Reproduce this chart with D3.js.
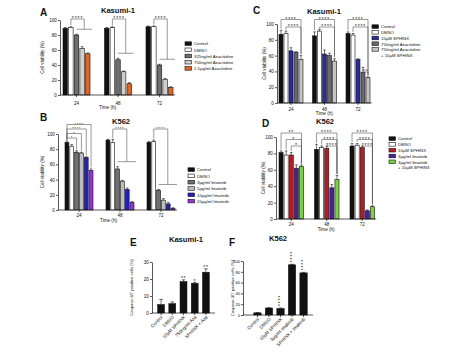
<!DOCTYPE html>
<html><head><meta charset="utf-8">
<script src="https://cdn.jsdelivr.net/npm/d3@7"></script>
<style>
body{margin:0;background:#fff;}
svg{display:block;font-family:"Liberation Sans",Arial,sans-serif;}
</style></head>
<body><svg id="c" width="474" height="360"></svg>
<script>
// ---------- DATA ----------
const timeLabels = ["24","48","72"];
const yTicks100 = [0,20,40,60,80,100];

const seriesA = ["Control","DMSO","325ng/ml Azacitidine","750ng/ml Azacitidine","1.5µg/ml Azacitidine"];
const valuesA = [[89,90,80,62,55],[89,90,47,31,15],[91,91,40,21,10]];
const errorsA = [[1,1,1,2.5,1],[1,1,2,1,1.5],[1,1,1,1,1]];
const colorsA = ["#111111","#ffffff","#6e6e6e","#cfcfcf","#e8641e"];
const bracketsA = [
  {type:"group", g:0, a:1, span:[2,4], level:0, label:"****"},
  {type:"group", g:1, a:1, span:[2,4], level:0, label:"****"},
  {type:"group", g:2, a:1, span:[2,4], level:0, label:"****"}
];

const seriesB = ["Control","DMSO","3µg/ml Imatinib","5µg/ml Imatinib","10µg/ml Imatinib","20µg/ml Imatinib"];
const valuesB = [[89,84,76,75,69,52],[92,89,54,38,27,10],[89,90,26,13,8,2]];
const errorsB = [[2,2,2,1,1,2],[1,4,3,1,2,1],[1,2,1,2,2,1]];
const colorsB = ["#111111","#ffffff","#707070","#bdbdbd","#1f1fd0","#9a32dc"];
const bracketsB = [
  {type:"pair", g:0, a:0, b:2, level:0, label:"*"},
  {type:"pair", g:0, a:0, b:3, level:1, label:"*"},
  {type:"pair", g:0, a:0, b:4, level:2, label:"****"},
  {type:"pair", g:0, a:0, b:5, level:3, label:"****"},
  {type:"group", g:1, a:1, span:[2,5], level:2, label:"****"},
  {type:"group", g:2, a:1, span:[2,5], level:2, label:"****"}
];

const seriesC = ["Control","DMSO","10µM SPHINX","750ng/ml Azacitidine","750ng/ml Azacitidine\n+ 10µM SPHINX"];
const valuesC = [[87,88,66,64,55],[85,91,62,60,53],[88,86,55,39,32]];
const errorsC = [[5,3,4,1,5],[5,2,5,3,3],[2,2,1,6,1]];
const colorsC = ["#111111","#ffffff","#2a2aa6","#6a6a6a","#c4c4c4"];
const bracketsC = [
  {type:"pair", g:0, a:0, b:4, level:1, label:"****"},
  {type:"pair", g:0, a:1, b:4, level:0, label:"****"},
  {type:"pair", g:1, a:0, b:4, level:1, label:"****"},
  {type:"pair", g:1, a:1, b:4, level:0, label:"****"},
  {type:"pair", g:2, a:0, b:4, level:1, label:"****"},
  {type:"pair", g:2, a:1, b:4, level:0, label:"****"},
  {type:"pair", g:2, a:3, b:4, level:-6, label:"n.s."}
];

const seriesD = ["Control","DMSO","10µM SPHINX","3µg/ml Imatinib","3µg/ml Imatinib\n+ 10µM SPHINX"];
const valuesD = [[81,78,78,62,64],[85,87,86,38,48],[89,90,87,10,15]];
const errorsD = [[2,5,3,4,2],[6,2,3,4,5],[3,2,2,1,1]];
const colorsD = ["#111111","#ffffff","#c4161c","#4a1fa6","#74d63c"];
const bracketsD = [
  {type:"pair", g:0, a:0, b:4, level:2, label:"**"},
  {type:"pair", g:0, a:1, b:4, level:1, label:"*"},
  {type:"pair", g:0, a:2, b:4, level:0, label:"*"},
  {type:"pair", g:1, a:0, b:4, level:2, label:"****"},
  {type:"pair", g:1, a:1, b:4, level:1, label:"****"},
  {type:"pair", g:1, a:2, b:4, level:0, label:"****"},
  {type:"pair", g:2, a:0, b:4, level:2, label:"****"},
  {type:"pair", g:2, a:1, b:4, level:1, label:"****"},
  {type:"pair", g:2, a:2, b:4, level:0, label:"****"}
];

const categoriesE = ["Control","DMSO","10µM SPHINX","750ng/ml Aza","SPHINX + Aza"];
const valuesE = [5,5.5,18.5,17.5,24];
const errorsE = [3,1,1,0.5,2];
const signifE = ["","","**","*","**"];
const yTicksE = [0,10,20,30];

const categoriesF = ["Control","DMSO","10µM SPHINX","3µg/ml Imatinib","SPHINX + Imatinib"];
const valuesF = [4,13,12,93,78];
const errorsF = [0.5,0.5,1,1,1];
const signifF = ["","","****","****","****"];
const yTicksF = [0,20,40,60,80,100];

// ---------- DRAWING ----------
const svg = d3.select("#c");
const FONT = 4.6;

function txt(x,y,s,size,opts={}) {
  const t = svg.append("text").attr("x",x).attr("y",y).text(s)
    .attr("font-size",size).attr("fill","#111");
  if (opts.anchor) t.attr("text-anchor",opts.anchor);
  if (opts.bold) t.attr("font-weight","bold");
  if (opts.rotate!==undefined) t.attr("transform",`rotate(${opts.rotate},${x},${y})`);
  if (opts.ls) t.attr("letter-spacing",opts.ls);
  return t;
}

function styleAxis(g, size){
  g.selectAll("text").attr("font-size",size||FONT).attr("fill","#111")
   .attr("font-family","Liberation Sans, Arial, sans-serif");
  g.selectAll("line,path").attr("stroke","#111").attr("stroke-width",0.7);
}

function groupedPanel(c){
  const y = d3.scaleLinear().domain([0,100]).range([c.yBot,c.yTop]);
  const n = timeLabels.length, po = 0.05, pi = 1 - c.gw/c.step;
  const xa = c.gl - c.step*po, xb = xa + c.step*(n - pi + 2*po);
  const x0 = d3.scaleBand().domain(timeLabels).range([xa,xb]).paddingInner(pi).paddingOuter(po);
  const x1 = d3.scaleBand().domain(d3.range(c.series.length)).range([0,x0.bandwidth()]).paddingInner(0.2);
  const bw = x1.bandwidth();
  const g = svg.append("g");

  // bars
  c.values.forEach((vals,gi)=>{
    vals.forEach((v,si)=>{
      const bx = x0(timeLabels[gi]) + x1(si);
      g.append("rect").attr("x",bx).attr("y",y(v)).attr("width",bw).attr("height",y(0)-y(v))
        .attr("fill",c.colors[si]).attr("stroke","#111").attr("stroke-width",0.6);
      const e = c.errors[gi][si], cx = bx + bw/2;
      g.append("line").attr("x1",cx).attr("x2",cx).attr("y1",y(v)).attr("y2",y(v+e))
        .attr("stroke","#111").attr("stroke-width",0.6);
      g.append("line").attr("x1",cx-1.3).attr("x2",cx+1.3).attr("y1",y(v+e)).attr("y2",y(v+e))
        .attr("stroke","#111").attr("stroke-width",0.6);
    });
  });

  // axes
  const ya = g.append("g").attr("transform",`translate(${c.ax},0)`)
    .call(d3.axisLeft(y).tickValues(yTicks100).tickSize(2).tickSizeOuter(0).tickPadding(1.2));
  styleAxis(ya);
  const xaG = g.append("g").attr("transform",`translate(0,${c.yBot})`)
    .call(d3.axisBottom(x0).tickSize(2).tickSizeOuter(0).tickPadding(c.xPad));
  styleAxis(xaG);
  xaG.select(".domain").remove();
  g.append("line").attr("x1",c.ax).attr("x2",xb).attr("y1",c.yBot).attr("y2",c.yBot)
    .attr("stroke","#111").attr("stroke-width",0.7);

  txt((c.ax+xb)/2 + c.timeDx, c.timeY, "Time (h)", FONT, {anchor:"middle"});
  txt(c.ylabX, (c.yTop+c.yBot)/2, "Cell viability (%)", FONT, {anchor:"middle", rotate:-90});
  txt(c.titleX, c.titleY, c.title, 7.6, {anchor:"middle", bold:true});
  txt(c.letterX, c.letterY, c.letter, 10, {bold:true});

  // brackets
  const levY = lv => y(100) + c.brBase - lv*c.brStep;
  const bc = (gi,si) => x0(timeLabels[gi]) + x1(si) + bw/2;
  const topOf = (gi,si) => y(c.values[gi][si] + c.errors[gi][si]) - 1.5;
  const bcol = c.brColor;
  const line = (x1_,y1_,x2_,y2_) => g.append("line").attr("x1",x1_).attr("y1",y1_).attr("x2",x2_).attr("y2",y2_)
    .attr("stroke",bcol).attr("stroke-width",0.6);
  const label = (x, ly, s) => {
    if (s==="n.s.") txt(x, ly-0.8, s, 4, {anchor:"middle"});
    else txt(x, ly+c.brFont*0.26, s, c.brFont, {anchor:"middle", ls:c.brFont*0.18});
  };
  c.brackets.forEach(b=>{
    const ly = levY(b.level);
    const xl = bc(b.g,b.a);
    if (b.type==="pair"){
      const xr = bc(b.g,b.b);
      line(xl,ly,xr,ly);
      line(xl,ly,xl,Math.max(ly+1.5,Math.min(topOf(b.g,b.a),ly+30)));
      line(xr,ly,xr,topOf(b.g,b.b));
      label((xl+xr)/2, ly, b.label);
    } else {
      const gs = x0(timeLabels[b.g]) + x1(b.span[0]) + bw/2;
      const ge = x0(timeLabels[b.g]) + x1(b.span[1]) + bw + 2;
      const mx = (gs+ge)/2;
      let mTop = 0;
      for (let s=b.span[0]; s<=b.span[1]; s++) mTop = Math.max(mTop, c.values[b.g][s]+c.errors[b.g][s]);
      const gy = y(mTop) - 5;
      line(xl,ly,mx,ly);
      line(xl,ly,xl,topOf(b.g,b.a));
      line(mx,ly,mx,gy);
      line(gs,gy,ge,gy);
      label((xl+mx)/2, ly, b.label);
    }
  });

  // legend
  c.series.forEach((s,i)=>{
    const ry = c.legY + i*c.legStep;
    g.append("rect").attr("x",c.legX).attr("y",ry-2.2).attr("width",6.5).attr("height",3.6)
      .attr("fill",c.colors[i]).attr("stroke","#111").attr("stroke-width",0.6);
    s.split("\n").forEach((part,k)=>{
      txt(c.legX+9, ry+1.4 + k*c.legStep, part, 4.3);
    });
  });
}

groupedPanel({series:seriesA, values:valuesA, errors:errorsA, colors:colorsA, brackets:bracketsA,
  ax:60, gl:63, gw:27, step:41.5, yTop:20, yBot:95, xPad:4.5, timeY:109, timeDx:-10, ylabX:44,
  title:"Kasumi-1", titleX:118, titleY:12.5, letter:"A", letterX:40, letterY:16,
  brBase:-1, brStep:5, brFont:5, brColor:"#555", legX:185, legY:44, legStep:6.2});

groupedPanel({series:seriesB, values:valuesB, errors:errorsB, colors:colorsB, brackets:bracketsB,
  ax:58, gl:65, gw:28, step:41, yTop:134, yBot:210, xPad:1.5, timeY:222, timeDx:-9, ylabX:44,
  title:"K562", titleX:121, titleY:123.5, letter:"B", letterX:40, letterY:121,
  brBase:4, brStep:4.5, brFont:3.9, brColor:"#555", legX:188, legY:170, legStep:6.3});

groupedPanel({series:seriesC, values:valuesC, errors:errorsC, colors:colorsC, brackets:bracketsC,
  ax:277, gl:279, gw:24, step:33.5, yTop:24, yBot:103, xPad:3, timeY:115, timeDx:0, ylabX:266,
  title:"Kasumi-1", titleX:324, titleY:13.5, letter:"C", letterX:253, letterY:14,
  brBase:3, brStep:7.5, brFont:5, brColor:"#555", legX:372, legY:27, legStep:5.7});

groupedPanel({series:seriesD, values:valuesD, errors:errorsD, colors:colorsD, brackets:bracketsD,
  ax:276, gl:279, gw:24.5, step:35.5, yTop:137, yBot:219, xPad:1.8, timeY:231, timeDx:0, ylabX:265,
  title:"K562", titleX:325, titleY:124, letter:"D", letterX:262, letterY:127,
  brBase:9, brStep:6.5, brFont:5, brColor:"#555", legX:389, legY:139, legStep:5.8});

function simplePanel(c){
  const y = d3.scaleLinear().domain(c.domain).range([c.yBot,c.yTop]);
  const x = d3.scaleBand().domain(c.cats).range([c.xa,c.xb]).paddingInner(c.pi).paddingOuter(c.po);
  const g = svg.append("g");
  c.values.forEach((v,i)=>{
    const bx = x(c.cats[i]), bw = x.bandwidth(), cx = bx+bw/2;
    g.append("rect").attr("x",bx).attr("y",y(v)).attr("width",bw).attr("height",y(0)-y(v))
      .attr("fill","#111").attr("stroke","#111").attr("stroke-width",0.5);
    const e = c.errors[i];
    g.append("line").attr("x1",cx).attr("x2",cx).attr("y1",y(v)).attr("y2",y(v+e)).attr("stroke","#111").attr("stroke-width",0.6);
    g.append("line").attr("x1",cx-1.8).attr("x2",cx+1.8).attr("y1",y(v+e)).attr("y2",y(v+e)).attr("stroke","#111").attr("stroke-width",0.6);
    if (c.sig[i]) {
      if (c.vertical) txt(cx+1.5, y(v+e)-2, c.sig[i], 5, {rotate:-90, ls:0.9});
      else txt(cx, y(v+e)+0.2, c.sig[i], 5, {anchor:"middle", ls:0.6});
    }
    txt(cx+2, c.yBot+4.5, c.cats[i], FONT, {anchor:"end", rotate:-45});
  });
  const ya = g.append("g").attr("transform",`translate(${c.ax},0)`)
    .call(d3.axisLeft(y).tickValues(c.ticks).tickSize(2).tickSizeOuter(0).tickPadding(c.tp));
  styleAxis(ya, c.tickFont);
  g.append("line").attr("x1",c.ax).attr("x2",c.xb).attr("y1",c.yBot).attr("y2",c.yBot).attr("stroke","#111").attr("stroke-width",0.7);
  c.cats.forEach(k=>{
    const cx = x(k)+x.bandwidth()/2;
    g.append("line").attr("x1",cx).attr("x2",cx).attr("y1",c.yBot).attr("y2",c.yBot+2).attr("stroke","#111").attr("stroke-width",0.7);
  });
  txt(c.ylabX, (c.yTop+c.yBot)/2, "Caspase-3/7 positive cells (%)", 4.2, {anchor:"middle", rotate:-90});
  txt(c.titleX, c.titleY, c.title, 7.6, {anchor:"middle", bold:true});
  txt(c.letterX, c.letterY, c.letter, 10, {bold:true});
}

simplePanel({cats:categoriesE, values:valuesE, errors:errorsE, sig:signifE, ticks:yTicksE, domain:[0,30],
  yTop:262, yBot:313, xa:152, xb:215, pi:0.38, po:0.5, ax:152, ylabX:133, vertical:false, tp:1.2, tickFont:4.6,
  title:"Kasumi-1", titleX:186, titleY:242, letter:"E", letterX:130, letterY:246});

simplePanel({cats:categoriesF, values:valuesF, errors:errorsF, sig:signifF, ticks:yTicksF, domain:[0,100],
  yTop:261, yBot:315, xa:248, xb:313, pi:0.36, po:0.5, ax:243, ylabX:234, vertical:true, tp:0.8, tickFont:4.2,
  title:"K562", titleX:278, titleY:241, letter:"F", letterX:229, letterY:246});
</script></body></html>
